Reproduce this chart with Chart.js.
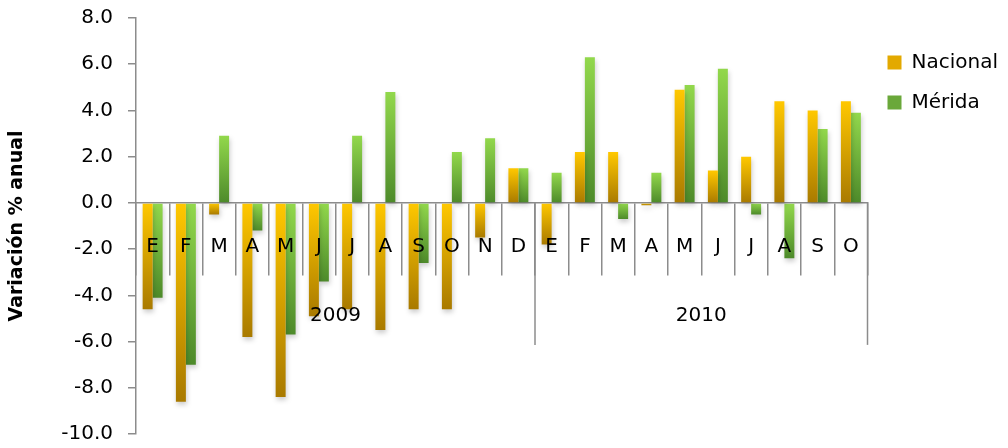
<!DOCTYPE html>
<html>
<head>
<meta charset="utf-8">
<script src="https://cdn.jsdelivr.net/npm/chart.js@4.4.1/dist/chart.umd.min.js"></script>
<style>
  html, body { margin: 0; padding: 0; background: #fff; }
  #wrap { width: 1008px; height: 448px; position: relative; }
</style>
</head>
<body>
<div id="wrap"><canvas id="barChart"></canvas></div>
<script>
const months = ["E", "F", "M", "A", "M", "J", "J", "A", "S", "O", "N", "D",
                "E", "F", "M", "A", "M", "J", "J", "A", "S", "O"];
const years = ["2009", "2010"];
const yearCounts = [12, 10];
const nacional = [-4.6, -8.6, -0.5, -5.8, -8.4, -4.9, -4.6, -5.5, -4.6, -4.6, -1.5, 1.5,
                  -1.8, 2.2, 2.2, -0.1, 4.9, 1.4, 2.0, 4.4, 4.0, 4.4];
const merida = [-4.1, -7.0, 2.9, -1.2, -5.7, -3.4, 2.9, 4.8, -2.6, 2.2, 2.8, 1.5,
                1.3, 6.3, -0.7, 1.3, 5.1, 5.8, -0.5, -2.4, 3.2, 3.9];
const yTicks = [-10, -8, -6, -4, -2, 0, 2, 4, 6, 8];

const FONT = "'DejaVu Sans', sans-serif";
const axisGray = "#8c8c8c";

// vertical gradient along each bar: bright near the top, darker at the bottom
const barFill = (light, dark) => (c) => {
  const y = c.chart.scales.y;
  if (c.type !== "data" || !y) return light;
  const p0 = y.getPixelForValue(0);
  const p1 = y.getPixelForValue(c.raw);
  if (!isFinite(p0) || !isFinite(p1) || p0 === p1) return light;
  const g = c.chart.ctx.createLinearGradient(0, Math.min(p0, p1), 0, Math.max(p0, p1));
  g.addColorStop(0, light);
  g.addColorStop(1, dark);
  return g;
};

// soft drop shadow under the bars
const barShadow = {
  id: "barShadow",
  beforeDatasetsDraw(chart) {
    const ctx = chart.ctx;
    ctx.save();
    ctx.shadowColor = "rgba(0,0,0,0.2)";
    ctx.shadowBlur = 5;
    ctx.shadowOffsetX = 1;
    ctx.shadowOffsetY = 3;
  },
  afterDatasetsDraw(chart) {
    chart.ctx.restore();
  },
};

// second level of the category axis: year groups
const yearGroups = {
  id: "yearGroups",
  afterDraw(chart) {
    const x = chart.scales.x;
    const zero = chart.scales.y.getPixelForValue(0);
    const half = (x.getPixelForValue(1) - x.getPixelForValue(0)) / 2;
    const ctx = chart.ctx;
    ctx.save();
    ctx.strokeStyle = axisGray;
    ctx.lineWidth = 1.5;
    ctx.fillStyle = "#000";
    ctx.font = "20px " + FONT;
    ctx.textAlign = "center";
    ctx.textBaseline = "middle";
    let start = 0;
    years.forEach((yr, i) => {
      const end = start + yearCounts[i] - 1;
      const left = x.getPixelForValue(start) - half;
      const right = x.getPixelForValue(end) + half;
      ctx.beginPath();
      ctx.moveTo(right, zero);
      ctx.lineTo(right, zero + 142);
      ctx.stroke();
      ctx.fillText(yr, (left + right) / 2, zero + 113);
      start = end + 1;
    });
    ctx.restore();
  },
};

const ctx = document.getElementById("barChart");
new Chart(ctx, {
  type: "bar",
  data: {
    labels: months,
    datasets: [
      {
        label: "Nacional",
        data: nacional,
        backgroundColor: barFill("#ffc800", "#a97a00"),
      },
      {
        label: "Mérida",
        data: merida,
        backgroundColor: barFill("#92d84c", "#4d8a2a"),
      },
    ],
  },
  options: {
    responsive: true,
    maintainAspectRatio: false,
    animation: false,
    categoryPercentage: 0.6,
    barPercentage: 1.0,
    layout: { padding: { top: 18, bottom: 14, left: 0, right: 0 } },
    plugins: {
      tooltip: { enabled: false },
      legend: {
        position: "right",
        align: "start",
        title: { display: true, text: " ", font: { size: 2 }, padding: 6 },
        labels: {
          font: { family: FONT, size: 20 },
          color: "#000",
          boxWidth: 14,
          boxHeight: 14,
          padding: 20,
          generateLabels(chart) {
            const solid = ["#e3a900", "#6aa83a"];
            return Chart.defaults.plugins.legend.labels
              .generateLabels(chart)
              .map((l, i) => Object.assign(l, { fillStyle: solid[i], strokeStyle: solid[i], lineWidth: 0 }));
          },
        },
      },
    },
    scales: {
      x: {
        type: "category",
        position: { y: 0 },
        grid: {
          offset: true,
          drawOnChartArea: false,
          drawTicks: true,
          tickLength: 72,
          color: axisGray,
          lineWidth: 1.5,
        },
        border: { color: axisGray, width: 1.5 },
        ticks: {
          z: 1,
          color: "#000",
          font: { family: FONT, size: 20 },
          padding: -40,
          maxRotation: 0,
          autoSkip: false,
        },
      },
      y: {
        min: -10,
        max: 8,
        afterBuildTicks(scale) {
          scale.ticks = yTicks.map((v) => ({ value: v }));
        },
        afterFit(scale) {
          scale.width = 136;
          scale.paddingTop = 0;
          scale.paddingBottom = 0;
        },
        grid: {
          drawOnChartArea: false,
          drawTicks: true,
          tickLength: 8,
          color: axisGray,
          lineWidth: 1.5,
        },
        border: { color: axisGray, width: 1.5 },
        ticks: {
          color: "#000",
          font: { family: FONT, size: 20 },
          padding: 15,
          callback: (v) => v.toFixed(1),
        },
        title: {
          display: true,
          text: "Variación % anual",
          color: "#000",
          font: { family: FONT, size: 19, weight: "bold" },
          padding: { top: 6, bottom: 0 },
        },
      },
    },
  },
  plugins: [barShadow, yearGroups],
});
</script>
</body>
</html>
